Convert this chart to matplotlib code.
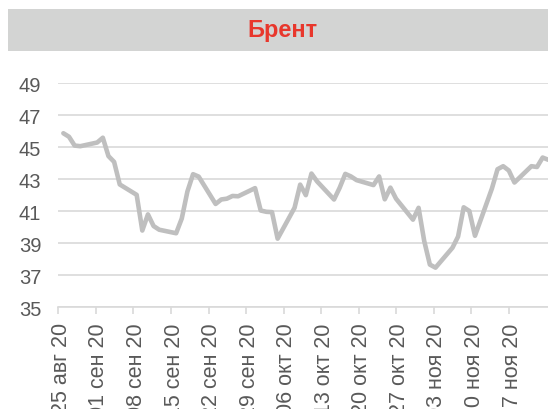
import matplotlib
matplotlib.use("Agg")
import matplotlib.pyplot as plt
from matplotlib.patches import Rectangle
import matplotlib.transforms as mtransforms
import datetime as dt

plt.rcParams['font.family'] = ['Liberation Sans', 'DejaVu Sans']

# ---- data ----
dates = [
    "2020-08-25", "2020-08-26", "2020-08-27", "2020-08-28", "2020-08-31",
    "2020-09-01", "2020-09-02", "2020-09-03", "2020-09-04", "2020-09-07",
    "2020-09-08", "2020-09-09", "2020-09-10", "2020-09-11", "2020-09-14",
    "2020-09-15", "2020-09-16", "2020-09-17", "2020-09-18", "2020-09-21",
    "2020-09-22", "2020-09-23", "2020-09-24", "2020-09-25", "2020-09-28",
    "2020-09-29", "2020-09-30", "2020-10-01", "2020-10-02", "2020-10-05",
    "2020-10-06", "2020-10-07", "2020-10-08", "2020-10-09", "2020-10-12",
    "2020-10-13", "2020-10-14", "2020-10-15", "2020-10-16", "2020-10-19",
    "2020-10-20", "2020-10-21", "2020-10-22", "2020-10-23", "2020-10-26",
    "2020-10-27", "2020-10-28", "2020-10-29", "2020-10-30", "2020-11-02",
    "2020-11-03", "2020-11-04", "2020-11-05", "2020-11-06", "2020-11-09",
    "2020-11-10", "2020-11-11", "2020-11-12", "2020-11-13", "2020-11-16",
    "2020-11-17", "2020-11-18", "2020-11-19",
]
brent = [
    45.86, 45.64, 45.09, 45.05, 45.28,
    45.58, 44.43, 44.07, 42.66, 42.01,
    39.78, 40.79, 40.06, 39.83, 39.61,
    40.53, 42.22, 43.30, 43.15, 41.44,
    41.72, 41.77, 41.94, 41.92, 42.43,
    41.03, 40.95, 40.93, 39.27, 41.20,
    42.65, 41.99, 43.34, 42.85, 41.72,
    42.45, 43.32, 43.16, 42.93, 42.62,
    43.16, 41.73, 42.46, 41.77, 40.46,
    41.20, 39.12, 37.65, 37.46, 38.70,
    39.40, 41.23, 41.00, 39.45, 42.40,
    43.61, 43.80, 43.53, 42.78, 43.80,
    43.75, 44.34, 44.20,
]
tick_dates = [
    "2020-08-25", "2020-09-01", "2020-09-08", "2020-09-15", "2020-09-22",
    "2020-09-29", "2020-10-06", "2020-10-13", "2020-10-20", "2020-10-27",
    "2020-11-03", "2020-11-10", "2020-11-17",
]
tick_labels = [
    "25 авг 20", "01 сен 20", "08 сен 20", "15 сен 20", "22 сен 20",
    "29 сен 20", "06 окт 20", "13 окт 20", "20 окт 20", "27 окт 20",
    "03 ноя 20", "10 ноя 20", "17 ноя 20",
]
y_ticks = [35, 37, 39, 41, 43, 45, 47, 49]
title = "Брент"

# ---- figure ----
W, H = 548, 410
fig = plt.figure(figsize=(W / 100, H / 100), dpi=100)

# title band
fig.patches.append(Rectangle((8 / W, 1 - 52 / H), 1 - 8 / W, 42 / H,
                             transform=fig.transFigure, facecolor='#d3d4d3',
                             edgecolor='none', zorder=0))
fig.text((8 + W) / 2 / W + 4 / W, 1 - 31 / H, title, ha='center', va='center',
         fontsize=17, fontweight='bold', color='#e8372c')

ax = fig.add_axes([58 / W, 1 - 308 / H, (W - 58) / W, (308 - 84) / H])

x = [dt.datetime.strptime(d, "%Y-%m-%d") for d in dates]
ax.plot(x, brent, color='#bfbfbf', lw=3.3, solid_joinstyle='round',
        solid_capstyle='round', zorder=3, clip_on=True)

base = dt.datetime(2020, 8, 25)
ax.set_xlim(base + dt.timedelta(days=-0.95), base + dt.timedelta(days=85.95))
ax.set_ylim(35, 49)
ax.set_yticks(y_ticks)
ax.set_yticklabels([str(v) for v in y_ticks])
ax.tick_params(axis='y', length=0, pad=12, labelsize=14.5, labelcolor='#595959')
ax.grid(axis='y', color='#d9d9d9', lw=1.2)
ax.set_axisbelow(True)
ax.set_xticks([])
for s in ['top', 'right', 'left']:
    ax.spines[s].set_visible(False)
ax.spines['bottom'].set_color('#d9d9d9')
ax.spines['bottom'].set_linewidth(1.2)

# label axis (weekly date ticks)
ax2 = ax.twiny()
ax2.set_xlim(base + dt.timedelta(days=-0.06), base + dt.timedelta(days=91.26))
tx = [dt.datetime.strptime(d, "%Y-%m-%d") for d in tick_dates]
ax2.set_xticks(tx)
ax2.set_xticklabels(tick_labels, rotation=90, va='top', ha='center')
ax2.xaxis.set_ticks_position('bottom')
ax2.xaxis.set_label_position('bottom')
ax2.tick_params(axis='x', length=5, width=1.2, color='#d9d9d9', pad=6,
                labelsize=15.5, labelcolor='#595959')
shift = mtransforms.ScaledTranslation(3 / 100, 0, fig.dpi_scale_trans)
for lab in ax2.get_xticklabels():
    lab.set_transform(lab.get_transform() + shift)
for s in ax2.spines.values():
    s.set_visible(False)

fig.savefig("out.png", dpi=100)
